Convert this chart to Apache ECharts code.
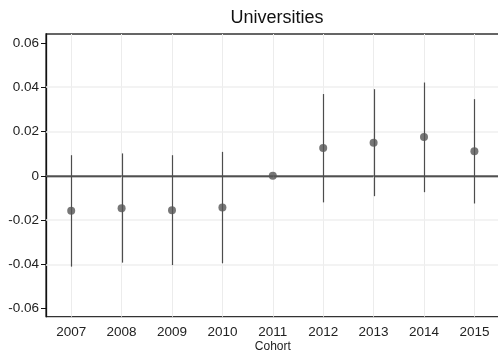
<!DOCTYPE html>
<html>
<head>
<meta charset="utf-8">
<script src="https://cdn.jsdelivr.net/npm/echarts@6/dist/echarts.min.js"></script>
<style>
  html, body { margin: 0; padding: 0; background: #fff; }
  #chart { width: 498px; height: 351px; }
</style>
</head>
<body>
<div id="chart"></div>
<script>
// Cohort estimates with confidence intervals
const cohorts = ['2007', '2008', '2009', '2010', '2011', '2012', '2013', '2014', '2015'];
const estimates = [-0.0158, -0.0146, -0.0156, -0.0143, 0.0, 0.0126, 0.0149, 0.0175, 0.0111];
const ciLower = [-0.0410, -0.0392, -0.0403, -0.0395, 0.0, -0.0120, -0.0092, -0.0074, -0.0125];
const ciUpper = [0.0093, 0.0101, 0.0093, 0.0108, 0.0, 0.0369, 0.0391, 0.0421, 0.0346];
const yTicks = [-0.06, -0.04, -0.02, 0, 0.02, 0.04, 0.06];
const yGrid = [-0.04, -0.02, 0.02, 0.04];

const FONT = 'Liberation Sans, Arial, Helvetica, sans-serif';

const chart = echarts.init(document.getElementById('chart'), null, { renderer: 'canvas' });

function fmt(v) {
  if (v === 0) return '0';
  return (v < 0 ? '-' : '') + Math.abs(v).toFixed(2);
}

const ciData = cohorts.map((c, i) => [i, ciLower[i], ciUpper[i]]);

chart.setOption({
  animation: false,
  title: {
    text: 'Universities',
    left: 272, top: 4,
    textAlign: 'center',
    textStyle: { fontFamily: FONT, fontSize: 18, fontWeight: 'normal', color: '#111' }
  },
  grid: {
    left: 46, top: 34, width: 453.6, height: 282.7,
    outerBoundsMode: 'none',
    containLabel: false,
    show: true, borderColor: '#333', borderWidth: 1.3, backgroundColor: 'transparent'
  },
  xAxis: {
    type: 'category',
    data: cohorts,
    boundaryGap: true,
    name: 'Cohort',
    nameLocation: 'middle',
    nameGap: 24,
    nameMoveOverlap: false,
    nameTextStyle: { fontFamily: FONT, fontSize: 12, color: '#222' },
    axisLine: { lineStyle: { color: '#111', width: 1.3 } },
    axisTick: { alignWithLabel: true, length: 5, lineStyle: { color: '#111' } },
    axisLabel: { fontFamily: FONT, fontSize: 13.5, color: '#222', margin: 9 },
    splitLine: { show: false }
  },
  yAxis: {
    type: 'value',
    min: -0.0636,
    max: 0.064,
    axisLine: { show: true, lineStyle: { color: '#111', width: 1.3 } },
    axisTick: { show: true, length: 5, customValues: yTicks, lineStyle: { color: '#111' } },
    axisLabel: {
      fontFamily: FONT, fontSize: 13.5, color: '#222', margin: 7,
      customValues: yTicks,
      formatter: fmt
    },
    splitLine: { show: false }
  },
  series: [
    {
      // light reference grid plus the zero line, kept beneath the marks
      type: 'line',
      data: [],
      silent: true,
      z: 1,
      markLine: {
        silent: true,
        z: 1,
        symbol: 'none',
        label: { show: false },
        animation: false,
        data: cohorts.map(c => ({ xAxis: c, lineStyle: { color: '#ececec', width: 1, type: 'solid' } }))
          .concat(yGrid.map(v => ({ yAxis: v, lineStyle: { color: '#efefef', width: 1.5, type: 'solid' } })))
          .concat([{ yAxis: 0, lineStyle: { color: '#666', width: 1.5, type: 'solid' } }])
      }
    },
    {
      // vertical confidence-interval bars, snapped to whole pixels
      type: 'custom',
      data: ciData,
      z: 3,
      renderItem: function (params, api) {
        const x = api.value(0);
        const lo = api.coord([x, api.value(1)]);
        const hi = api.coord([x, api.value(2)]);
        const px = Math.round(lo[0]) + 0.5;
        return {
          type: 'line',
          shape: { x1: px, y1: lo[1], x2: px, y2: hi[1] },
          style: { stroke: '#4d4d4d', lineWidth: 1.2 }
        };
      }
    },
    {
      type: 'scatter',
      data: estimates.map((v, i) => [i, v]),
      symbol: 'circle',
      symbolSize: 8,
      z: 4,
      itemStyle: { color: '#555555' }
    }
  ]
});
</script>
</body>
</html>
